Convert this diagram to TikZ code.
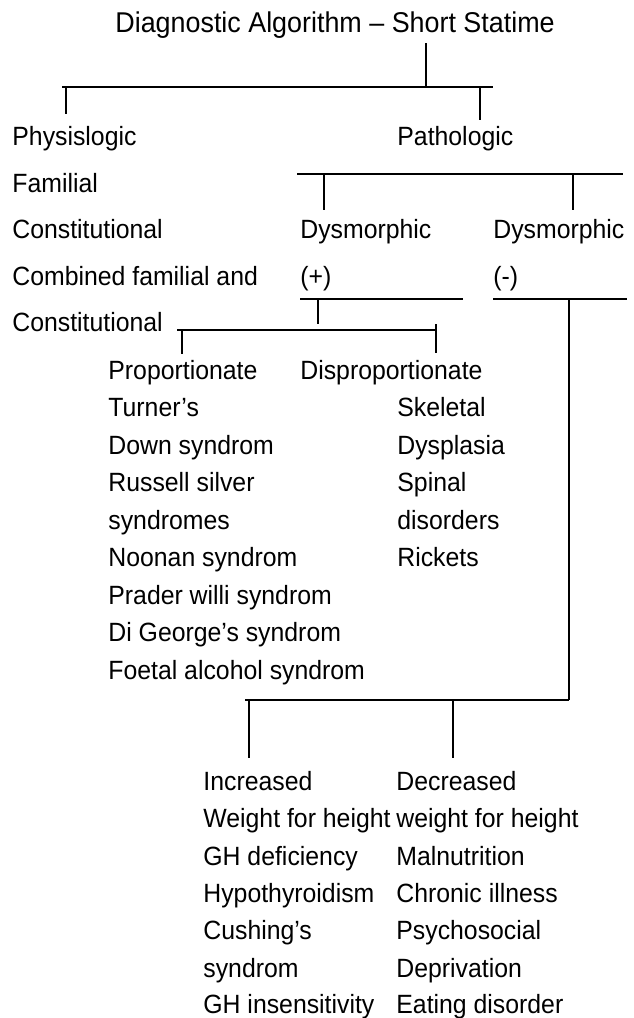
\documentclass[tikz,border=0pt]{standalone}
\usepackage{fontspec}
\setmainfont[FakeStretch=0.94]{Liberation Sans}
\usetikzlibrary{positioning}
\tikzstyle{entry} = [anchor=base west, inner sep=0pt, font=\fontsize{13.2}{15}\selectfont]
\tikzstyle{heading} = [anchor=base west, inner sep=0pt, font=\fontsize{14.3}{16}\selectfont]
\tikzstyle{branch} = [line width=1pt]

\begin{document}
\begin{tikzpicture}[x=0.5pt, y=-0.5pt]
\useasboundingbox (0,0) rectangle (633,1018);

% Title
\node[heading] (title) at (115,32) {Diagnostic Algorithm – Short Statime};

% First split
\node[entry] (physio) at (12,145) {Physislogic};
\node[entry] (familial) at (12,192) {Familial};
\node[entry] (constit) at (12,238) {Constitutional};
\node[entry] (combined) at (12,285) {Combined familial and};
\node[entry] (constitb) at (12,331) {Constitutional};
\node[entry] (patho) at (397,145) {Pathologic};

% Pathologic branches
\node[entry] (dysplus) at (300,238) {Dysmorphic};
\node[entry] (plus) at (300,285) {(+)};
\node[entry] (dysminus) at (493,238) {Dysmorphic};
\node[entry] (minus) at (493,285) {(-)};

% Dysmorphic (+)
\node[entry] (prop) at (108,379) {Proportionate};
\node[entry] (disprop) at (300,379) {Disproportionate};
\node[entry] (turner) at (108,416.5) {Turner’s};
\node[entry] (down) at (108,454) {Down syndrom};
\node[entry] (russell) at (108,491.5) {Russell silver};
\node[entry] (russellb) at (108,529) {syndromes};
\node[entry] (noonan) at (108,566.5) {Noonan syndrom};
\node[entry] (prader) at (108,604) {Prader willi syndrom};
\node[entry] (digeorge) at (108,641.5) {Di George’s syndrom};
\node[entry] (foetal) at (108,679) {Foetal alcohol syndrom};
\node[entry] (skeletal) at (397,416.5) {Skeletal};
\node[entry] (dysplasia) at (397,454) {Dysplasia};
\node[entry] (spinal) at (397,491.5) {Spinal};
\node[entry] (disorders) at (397,529) {disorders};
\node[entry] (rickets) at (397,566.5) {Rickets};

% Dysmorphic (-)
\node[entry] (incr) at (203,790) {Increased};
\node[entry] (incrwt) at (203,827) {Weight for height};
\node[entry] (ghdef) at (203,865) {GH deficiency};
\node[entry] (hypo) at (203,902) {Hypothyroidism};
\node[entry] (cushing) at (203,939) {Cushing’s};
\node[entry] (cushingb) at (203,977) {syndrom};
\node[entry] (ghins) at (203,1013) {GH insensitivity};
\node[entry] (decr) at (396,790) {Decreased};
\node[entry] (decrwt) at (396,827) {weight for height};
\node[entry] (malnut) at (396,865) {Malnutrition};
\node[entry] (chronic) at (396,902) {Chronic illness};
\node[entry] (psycho) at (396,939) {Psychosocial};
\node[entry] (depriv) at (396,977) {Deprivation};
\node[entry] (eating) at (396,1013) {Eating disorder};

% Junction points
\coordinate (titletick) at (426,43);
\coordinate (barA) at (426,87);
\coordinate (barAL) at (62,87);
\coordinate (barAR) at (493,87);
\coordinate (physiotop) at (66,114);
\coordinate (pathotop) at (480,120);
\coordinate (barBL) at (297,174);
\coordinate (barBR) at (623,174);
\coordinate (dysplustop) at (324,210);
\coordinate (dysminustop) at (573,210);
\coordinate (barCL) at (300,299);
\coordinate (barCR) at (463,299);
\coordinate (barCdrop) at (318,324);
\coordinate (barDL) at (493,299);
\coordinate (barDR) at (627,299);
\coordinate (barEL) at (177,330);
\coordinate (barER) at (436,330);
\coordinate (proptop) at (182,354);
\coordinate (disproptop) at (436,353);
\coordinate (barFL) at (245,700);
\coordinate (barFR) at (569,700);
\coordinate (incrtop) at (249,758);
\coordinate (decrtop) at (453,758);

% Connectors
\draw[branch] (titletick) -- (barA);
\draw[branch] (barAL) -- (barAR);
\draw[branch] (physiotop |- barA) -- (physiotop);
\draw[branch] (pathotop |- barA) -- (pathotop);
\draw[branch] (barBL) -- (barBR);
\draw[branch] (dysplustop |- barBL) -- (dysplustop);
\draw[branch] (dysminustop |- barBL) -- (dysminustop);
\draw[branch] (barCL) -- (barCR);
\draw[branch] (barCdrop |- barCL) -- (barCdrop);
\draw[branch] (barDL) -- (barDR);
\draw[branch] (barFR |- barDL) -- (barFR);
\draw[branch] (barEL) -- (barER);
\draw[branch] (proptop |- barEL) -- (proptop);
\draw[branch] ([yshift=3]barER) -- (disproptop);
\draw[branch] (barFL) -- (barFR);
\draw[branch] (incrtop |- barFL) -- (incrtop);
\draw[branch] (decrtop |- barFL) -- (decrtop);

\end{tikzpicture}
\end{document}
